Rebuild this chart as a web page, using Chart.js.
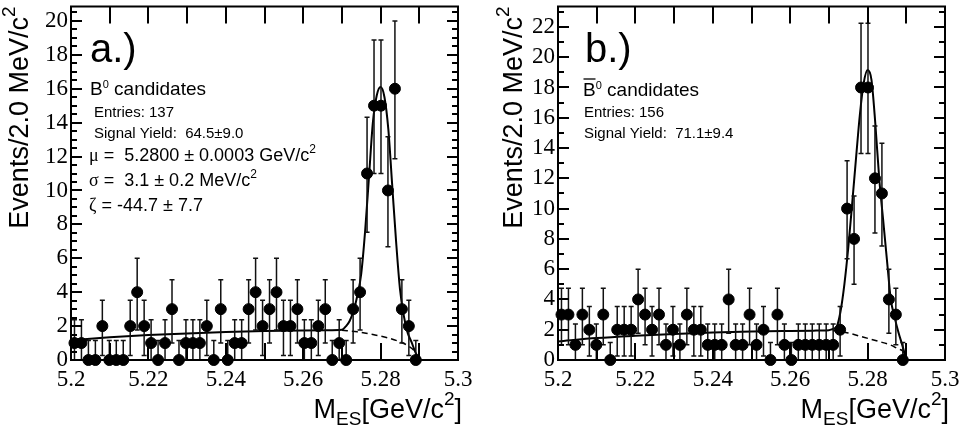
<!DOCTYPE html>
<html>
<head>
<meta charset="utf-8">
<script src="https://cdn.jsdelivr.net/npm/chart.js@4.4.1/dist/chart.umd.min.js"></script>
<style>
  html, body { margin: 0; padding: 0; background: #fff; }
  #wrap { position: relative; width: 962px; height: 430px; }
  .panel { position: absolute; top: 0; width: 481px; height: 430px; }
</style>
</head>
<body>
<div id="wrap">
  <div class="panel" style="left:0"><canvas id="chartB0" width="481" height="430"></canvas></div>
  <div class="panel" style="left:481px"><canvas id="chartB0bar" width="481" height="430"></canvas></div>
</div>
<script>
// --- DATA ---
// 50 bins between 5.20 and 5.29 GeV/c^2
const binLow = 5.2, binWidth = 0.0018, nBins = 50;
const binCenters = Array.from({ length: nBins }, (_, i) => binLow + binWidth * (i + 0.5));

const countsB0 = [1, 1, 0, 0, 2, 0, 0, 0, 2, 4, 2, 1, 0, 1, 3, 0, 1, 1, 1, 2, 0, 3, 0, 1, 1,
                  3, 4, 2, 3, 4, 2, 2, 3, 1, 1, 2, 3, 0, 1, 0, 3, 4, 11, 15, 15, 10, 16, 3, 2, 0];
const countsB0bar = [3, 3, 1, 3, 2, 1, 3, 0, 2, 2, 2, 4, 3, 2, 3, 1, 2, 1, 3, 2, 2, 1, 1, 1, 4,
                     1, 1, 3, 1, 2, 0, 3, 1, 0, 1, 1, 1, 1, 1, 1, 2, 10, 8, 18, 18, 12, 11, 4, 3, 0];

// fitted curves (total = solid, background = dashed)
const fitB0X = [5.200, 5.210, 5.220, 5.230, 5.240, 5.250, 5.260, 5.266, 5.270, 5.271, 5.272, 5.273, 5.274, 5.275, 5.276,
                5.277, 5.278, 5.279, 5.280, 5.281, 5.282, 5.283, 5.284, 5.285, 5.286, 5.287, 5.288, 5.289, 5.290];
const fitB0Y = [1.17, 1.34, 1.47, 1.57, 1.65, 1.71, 1.74, 1.75, 1.78, 1.98, 2.30, 2.90, 3.80, 5.10, 7.60,
                10.80, 14.00, 15.60, 16.10, 15.50, 13.60, 10.30, 7.00, 4.20, 2.60, 1.60, 1.05, 0.45, 0.00];
const bkgB0X = [5.270, 5.274, 5.278, 5.282, 5.285, 5.287, 5.289, 5.290];
const bkgB0Y = [1.76, 1.66, 1.50, 1.30, 1.07, 0.85, 0.45, 0.00];

const fitB0barX = [5.200, 5.210, 5.220, 5.230, 5.240, 5.250, 5.260, 5.266, 5.270, 5.271, 5.272, 5.273, 5.274, 5.275, 5.276,
                   5.277, 5.278, 5.279, 5.280, 5.281, 5.282, 5.283, 5.284, 5.285, 5.286, 5.287, 5.288, 5.289, 5.290];
const fitB0barY = [1.23, 1.45, 1.60, 1.72, 1.82, 1.88, 1.92, 1.94, 1.97, 2.05, 2.20, 3.20, 5.00, 7.40, 10.30,
                   13.30, 16.20, 18.30, 19.15, 18.50, 15.60, 12.00, 9.30, 6.60, 4.00, 2.80, 1.80, 0.95, 0.00];
const bkgB0barX = [5.271, 5.275, 5.279, 5.283, 5.286, 5.288, 5.289, 5.290];
const bkgB0barY = [1.95, 1.78, 1.50, 1.22, 0.98, 0.72, 0.60, 0.00];

// axis labels
const xLabels = [5.2, 5.22, 5.24, 5.26, 5.28, 5.3];
const yLabelsB0 = [0, 2, 4, 6, 8, 10, 12, 14, 16, 18, 20];
const yLabelsB0bar = [0, 2, 4, 6, 8, 10, 12, 14, 16, 18, 20, 22];

// upper error for 0..2 entries as drawn, sqrt(n) above
const errUpSmall = [1.15, 1.37, 1.53];
const errUp = n => n < errUpSmall.length ? errUpSmall[n] : Math.sqrt(n);
const errDown = n => Math.min(n, Math.sqrt(n + 1));

const SANS = '"Liberation Sans", Arial, sans-serif';
const SERIF = '"Liberation Serif", "Times New Roman", serif';

// --- TEXT HELPERS ---
// parts: [text, px size, family, raise]
function richWidth(ctx, parts) {
    let w = 0;
    parts.forEach(([t, size, fam]) => { ctx.font = size + 'px ' + (fam || SANS); w += ctx.measureText(t).width; });
    return w;
}
function rich(ctx, x, y, parts) {
    let cx = x;
    parts.forEach(([t, size, fam, raise]) => {
        ctx.font = size + 'px ' + (fam || SANS);
        ctx.fillText(t, cx, y - (raise || 0));
        cx += ctx.measureText(t).width;
    });
    return cx - x;
}

// --- FRAME / ERROR BARS / LABELS ---
function rootPlugin(cfg) {
    return {
        id: 'rootFrame',
        beforeDatasetDraw(chart, args) {
            if (args.index !== 0) return;
            const { x, y } = chart.scales;
            const ctx = chart.ctx;
            ctx.save();
            ctx.strokeStyle = '#111';
            ctx.lineWidth = 1.5;
            cfg.counts.forEach((n, i) => {
                const px = x.getPixelForValue(binCenters[i]);
                const yt = y.getPixelForValue(n + errUp(n));
                const yb = y.getPixelForValue(n - errDown(n));
                ctx.beginPath();
                ctx.moveTo(px, yb); ctx.lineTo(px, yt);
                ctx.moveTo(px - 2.5, yt); ctx.lineTo(px + 2.5, yt);
                if (n > 0) { ctx.moveTo(px - 2.5, yb); ctx.lineTo(px + 2.5, yb); }
                ctx.stroke();
            });
            ctx.restore();
        },
        afterDatasetsDraw(chart) {
            const { x, y } = chart.scales;
            const ctx = chart.ctx;
            const ca = chart.chartArea;
            ctx.save();
            ctx.strokeStyle = '#000';
            ctx.lineWidth = 2;
            ctx.strokeRect(ca.left, ca.top, ca.width, ca.height);

            ctx.beginPath();
            // x ticks every 10 MeV, top and bottom
            for (let k = 0; k <= 10; k++) {
                const px = Math.round(x.getPixelForValue(5.2 + k * 0.01));
                ctx.moveTo(px, ca.bottom); ctx.lineTo(px, ca.bottom - 17);
                ctx.moveTo(px, ca.top); ctx.lineTo(px, ca.top + 17);
            }
            // y ticks, both sides
            for (let v = 0; v <= y.max + 1e-9; v += cfg.yMinor) {
                const major = Math.abs(v / 2 - Math.round(v / 2)) < 1e-6;
                const len = major ? 11 : 6;
                const py = Math.round(y.getPixelForValue(v));
                ctx.moveTo(ca.left, py); ctx.lineTo(ca.left + len, py);
                ctx.moveTo(ca.right, py); ctx.lineTo(ca.right - len, py);
            }
            ctx.stroke();

            ctx.fillStyle = '#000';
            ctx.textBaseline = 'alphabetic';
            ctx.textAlign = 'left';

            // x title
            const xt = [['M', 27], ['ES', 19, SANS, -7], ['[GeV/c', 27], ['2', 19, SANS, 13], [']', 27]];
            rich(ctx, ca.right + 4 - richWidth(ctx, xt), 418, xt);

            // y title, rotated
            const yt = [['Events/2.0 MeV/c', 27], ['2', 19, SANS, 13]];
            const w = richWidth(ctx, yt);
            ctx.save();
            ctx.translate(ca.left + cfg.yTitleDx, ca.top + w);
            ctx.rotate(-Math.PI / 2);
            rich(ctx, 0, 0, yt);
            ctx.restore();

            // panel text
            cfg.texts.forEach(([dx, by, parts]) => rich(ctx, ca.left + dx, by, parts));
            if (cfg.barOverB) {
                const [bx, by, bw] = cfg.barOverB;
                ctx.lineWidth = 1.3;
                ctx.beginPath();
                ctx.moveTo(ca.left + bx, by); ctx.lineTo(ca.left + bx + bw, by);
                ctx.stroke();
            }
            ctx.restore();
        }
    };
}

function makeChart(id, cfg) {
    const pts = (xs, ys) => xs.map((v, i) => ({ x: v, y: ys[i] }));
    return new Chart(document.getElementById(id), {
        type: 'scatter',
        data: {
            datasets: [
                { data: pts(binCenters, cfg.counts), pointRadius: 5.5, pointBorderWidth: 1,
                  backgroundColor: '#000', borderColor: '#000', clip: false, order: 0 },
                { type: 'line', data: pts(cfg.fitX, cfg.fitY), borderColor: '#000', borderWidth: 2,
                  pointRadius: 0, fill: false, cubicInterpolationMode: 'monotone', order: 1 },
                { type: 'line', data: pts(cfg.bkgX, cfg.bkgY), borderColor: '#000', borderWidth: 1.5,
                  borderDash: [6, 4], pointRadius: 0, fill: false, cubicInterpolationMode: 'monotone', order: 2 }
            ]
        },
        options: {
            responsive: false,
            animation: false,
            events: [],
            layout: { padding: { top: 3, right: cfg.padRight, left: 0, bottom: 0 } },
            plugins: { legend: { display: false }, tooltip: { enabled: false } },
            scales: {
                x: {
                    type: 'linear', min: 5.2, max: 5.3,
                    grid: { display: false, drawTicks: false, tickLength: 0 }, border: { display: false },
                    afterBuildTicks: s => { s.ticks = xLabels.map(v => ({ value: v })); },
                    afterFit: s => { s.height = 70; s.paddingLeft = 0; s.paddingRight = 0; },
                    ticks: {
                        font: { family: SERIF, size: 23 }, color: '#000', padding: 6,
                        maxRotation: 0, autoSkip: false,
                        callback: v => String(Number(v.toFixed(2)))
                    }
                },
                y: {
                    min: 0, max: cfg.yMax,
                    grid: { display: false, drawTicks: false, tickLength: 0 }, border: { display: false },
                    afterBuildTicks: s => { s.ticks = cfg.yLabels.map(v => ({ value: v })); },
                    afterFit: s => { s.width = cfg.axisLeft; s.paddingTop = 0; s.paddingBottom = 0; },
                    ticks: { font: { family: SERIF, size: 23 }, color: '#000', padding: 3, callback: v => String(v) }
                }
            }
        },
        plugins: [rootPlugin(cfg)]
    });
}

makeChart('chartB0', {
    counts: countsB0, fitX: fitB0X, fitY: fitB0Y, bkgX: bkgB0X, bkgY: bkgB0Y,
    yLabels: yLabelsB0, yMax: 20.85, yMinor: 0.5, axisLeft: 71, padRight: 23, yTitleDx: -43,
    texts: [
        [19, 62, [['a.)', 40]]],
        [19, 95, [['B', 19], ['0', 11, SANS, 7], [' candidates', 19]]],
        [23, 117, [['Entries: 137', 15]]],
        [23, 138, [['Signal Yield:  64.5\u00b19.0', 15]]],
        [18, 161, [['\u03bc', 18, SERIF], [' =  5.2800 \u00b1 0.0003 GeV/c', 18], ['2', 12, SANS, 8]]],
        [18, 186, [['\u03c3', 18, SERIF], [' =  3.1 \u00b1 0.2 MeV/c', 18], ['2', 12, SANS, 8]]],
        [18, 211, [['\u03b6', 18, SERIF], [' = -44.7 \u00b1 7.7', 18]]]
    ]
});

makeChart('chartB0bar', {
    counts: countsB0bar, fitX: fitB0barX, fitY: fitB0barY, bkgX: bkgB0barX, bkgY: bkgB0barY,
    yLabels: yLabelsB0bar, yMax: 23.35, yMinor: 1, axisLeft: 77, padRight: 17, yTitleDx: -36,
    texts: [
        [27, 62, [['b.)', 40]]],
        [25, 96, [['B', 19], ['0', 11, SANS, 7], [' candidates', 19]]],
        [26, 117, [['Entries: 156', 15]]],
        [26, 138, [['Signal Yield:  71.1\u00b19.4', 15]]]
    ],
    barOverB: [25.5, 79, 12]
});
</script>
</body>
</html>
